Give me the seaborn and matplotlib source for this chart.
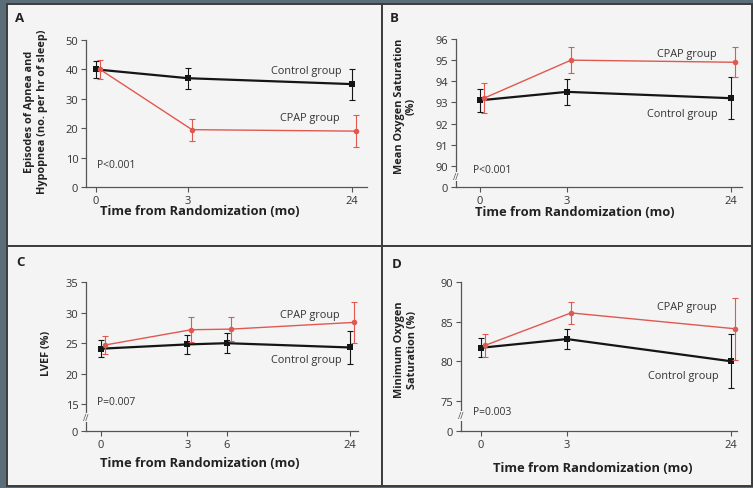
import numpy as np
import pandas as pd
import seaborn as sns
import matplotlib.pyplot as plt
from matplotlib.patches import Rectangle
from matplotlib.transforms import ScaledTranslation

# ---- data (group means and error-bar half widths) ----
months = [0, 3, 24]
months_lvef = [0, 3, 6, 24]

ahi_control = [40.0, 37.0, 35.0]
ahi_control_err = [2.9, 3.6, 5.3]
ahi_cpap = [40.0, 19.5, 19.0]
ahi_cpap_err = [3.1, 3.7, 5.5]

sat_control = [93.1, 93.5, 93.2]
sat_control_err = [0.55, 0.6, 1.0]
sat_cpap = [93.2, 95.0, 94.9]
sat_cpap_err = [0.7, 0.6, 0.7]

lvef_control = [24.1, 24.8, 25.0, 24.3]
lvef_control_err = [1.4, 1.6, 1.6, 2.7]
lvef_cpap = [24.7, 27.2, 27.3, 28.4]
lvef_cpap_err = [1.4, 2.0, 1.9, 3.4]

minsat_control = [81.7, 82.8, 80.0]
minsat_control_err = [1.2, 1.3, 3.4]
minsat_cpap = [82.0, 86.1, 84.1]
minsat_cpap_err = [1.4, 1.4, 3.9]

p_values = ["P<0.001", "P<0.001", "P=0.007", "P=0.003"]

# ---- style ----
W, H = 753, 489
SLATE = "#5a6d79"
PANEL = "#f4f4f4"
EDGE = "#3c3c3c"
BLACK = "#151515"
RED = "#e0584f"
TXT = "#333333"

sns.set_theme(style="ticks")
plt.rcParams["font.family"] = ["Open Sans", "DejaVu Sans"]
plt.rcParams["axes.facecolor"] = "none"


def piecewise(k_in, k_out):
    k_in = np.asarray(k_in, float)
    k_out = np.asarray(k_out, float)
    s0 = (k_out[1] - k_out[0]) / (k_in[1] - k_in[0])
    s1 = (k_out[-1] - k_out[-2]) / (k_in[-1] - k_in[-2])
    xi = np.r_[k_in[0] - 1000, k_in, k_in[-1] + 1000]
    xo = np.r_[k_out[0] - 1000 * s0, k_out, k_out[-1] + 1000 * s1]
    return (lambda v: np.interp(v, xi, xo), lambda v: np.interp(v, xo, xi))


panels = [
    dict(letter="A", x=months, ctrl=ahi_control, ctrl_e=ahi_control_err,
         cpap=ahi_cpap, cpap_e=ahi_cpap_err,
         ylabel="Episodes of Apnea and\nHypopnea (no. per hr of sleep)",
         yticks=[0, 10, 20, 30, 40, 50], low=None, gap=0,
         box=(86, 367, 188, 41), xpx=[0, 92, 256], xl=-10, xr=271,
         ctrl_lab=(22.7, 39.5), cpap_lab=(22.4, 23.8),
         ylab_xy=(-0.135, 0.52), xlab_xy=(0.406, -0.116), p_xy=(0.04, 0.156),
         letter_xy=(15, 18)),
    dict(letter="B", x=months, ctrl=sat_control, ctrl_e=sat_control_err,
         cpap=sat_cpap, cpap_e=sat_cpap_err,
         ylabel="Mean Oxygen Saturation\n(%)",
         yticks=[0, 90, 91, 92, 93, 94, 95, 96], low=90, gap=1.0,
         box=(456, 742, 188, 40), xpx=[0, 87, 251], xl=-24, xr=262,
         ctrl_lab=(22.3, 92.48), cpap_lab=(22.2, 95.32),
         ylab_xy=(-0.136, 0.55), xlab_xy=(0.416, -0.12), p_xy=(0.06, 0.115),
         letter_xy=(390, 18)),
    dict(letter="C", x=months_lvef, ctrl=lvef_control, ctrl_e=lvef_control_err,
         cpap=lvef_cpap, cpap_e=lvef_cpap_err,
         ylabel="LVEF (%)",
         yticks=[0, 15, 20, 25, 30, 35], low=15, gap=4.35,
         box=(86, 358, 432, 283), xpx=[0, 87, 127, 251], xl=-15, xr=259,
         ctrl_lab=(22.8, 22.36), cpap_lab=(22.5, 29.77),
         ylab_xy=(-0.125, 0.53), xlab_xy=(0.419, -0.168), p_xy=(0.04, 0.195),
         letter_xy=(16, 263)),
    dict(letter="D", x=months, ctrl=minsat_control, ctrl_e=minsat_control_err,
         cpap=minsat_cpap, cpap_e=minsat_cpap_err,
         ylabel="Minimum Oxygen\nSaturation (%)",
         yticks=[0, 75, 80, 85, 90], low=75, gap=3.8,
         box=(461, 737, 432, 283), xpx=[0, 86, 250], xl=-20, xr=256,
         ctrl_lab=(22.4, 78.2), cpap_lab=(22.2, 86.85),
         ylab_xy=(-0.157, 0.55), xlab_xy=(0.478, -0.2), p_xy=(0.044, 0.128),
         letter_xy=(392, 265)),
]

fig = plt.figure(figsize=(W / 100, H / 100), dpi=100)
fig.patch.set_facecolor(SLATE)

# panel backgrounds
for (x0, x1, y0, y1) in [(7, 382, 5, 247), (382, 752, 5, 247),
                         (7, 382, 247, 487), (382, 752, 247, 487)]:
    fig.add_artist(Rectangle((x0 / W, 1 - y1 / H), (x1 - x0) / W, (y1 - y0) / H,
                             transform=fig.transFigure, facecolor=PANEL,
                             edgecolor=EDGE, lw=1.4, zorder=-1))

shift = ScaledTranslation(4 / 100, 0, fig.dpi_scale_trans)

for i, p in enumerate(panels):
    L, R, B, T = p["box"]
    ax = fig.add_axes([L / W, 1 - B / H, (R - L) / W, (B - T) / H])

    fx, ix = piecewise(p["x"], p["xpx"])
    ax.set_xscale("function", functions=(fx, ix))
    ymax = p["yticks"][-1]
    if p["low"] is not None:
        fy, iy = piecewise([0, p["low"], ymax], [p["low"] - p["gap"], p["low"], ymax])
        ax.set_yscale("function", functions=(fy, iy))

    n = len(p["x"])
    df = pd.DataFrame({"month": p["x"] * 2,
                       "value": p["ctrl"] + p["cpap"],
                       "group": ["Control group"] * n + ["CPAP group"] * n})

    sns.lineplot(data=df[df.group == "Control group"], x="month", y="value",
                 color=BLACK, marker="s", markersize=4.5, markeredgewidth=0,
                 linewidth=1.6, errorbar=None, legend=False, ax=ax, zorder=3)
    ax.lines[-1].set_clip_on(False)
    eb = ax.errorbar(p["x"], p["ctrl"], yerr=p["ctrl_e"], fmt="none", ecolor=BLACK,
                     elinewidth=0.8, capsize=2.2, capthick=0.8, zorder=3)
    for art in list(eb.lines[1]) + list(eb.lines[2]):
        art.set_clip_on(False)

    sns.lineplot(data=df[df.group == "CPAP group"], x="month", y="value",
                 color=RED, marker="o", markersize=4, markeredgewidth=0,
                 linewidth=1.0, errorbar=None, legend=False, ax=ax, zorder=4)
    ax.lines[-1].set_transform(ax.transData + shift)
    ax.lines[-1].set_clip_on(False)
    eb = ax.errorbar(p["x"], p["cpap"], yerr=p["cpap_e"], fmt="none", ecolor=RED,
                     elinewidth=0.8, capsize=2.2, capthick=0.8, zorder=4)
    for art in list(eb.lines[1]) + list(eb.lines[2]):
        art.set_transform(ax.transData + shift)
        art.set_clip_on(False)

    ax.set_xlim(ix(p["xl"]), ix(p["xr"]))
    ax.set_ylim(0, ymax)
    ax.set_xticks(p["x"])
    ax.set_xticklabels([str(m) for m in p["x"]])
    ax.set_yticks(p["yticks"])
    ax.set_yticklabels([str(t) for t in p["yticks"]])
    ax.minorticks_off()

    for s in ["top", "right"]:
        ax.spines[s].set_visible(False)
    for s in ["left", "bottom"]:
        ax.spines[s].set_color("#555555")
        ax.spines[s].set_linewidth(0.9)
    ax.tick_params(axis="both", length=3.5, width=0.8, color="#555555",
                   labelsize=8, labelcolor=TXT, pad=2)

    ax.set_ylabel(p["ylabel"], fontsize=7.8, fontweight="bold", color="#222222",
                  linespacing=1.2)
    ax.yaxis.set_label_coords(*p["ylab_xy"])
    ax.set_xlabel("Time from Randomization (mo)", fontsize=9.3, fontweight="bold",
                  color="#222222")
    ax.xaxis.set_label_coords(*p["xlab_xy"])

    ax.text(*p["ctrl_lab"], "Control group", ha="right", va="center",
            fontsize=7.8, color=TXT)
    ax.text(*p["cpap_lab"], "CPAP group", ha="right", va="center",
            fontsize=7.8, color=TXT)
    ax.text(*p["p_xy"], p_values[i], transform=ax.transAxes, ha="left",
            va="center", fontsize=7.5, color=TXT)

    if p["low"] is not None:
        ymid = iy(p["low"] - p["gap"] / 2)
        ax.text(0, ymid, "//", transform=ax.get_yaxis_transform(), ha="center",
                va="center", fontsize=6.5, color="#555555", clip_on=False,
                bbox=dict(facecolor=PANEL, edgecolor="none", pad=0.2))

    lx, ly = p["letter_xy"]
    fig.text(lx / W, 1 - ly / H, p["letter"], ha="left", va="center",
             fontsize=9.5, fontweight="bold", color="#222222")

fig.savefig("out.png", dpi=100, facecolor=fig.get_facecolor())
